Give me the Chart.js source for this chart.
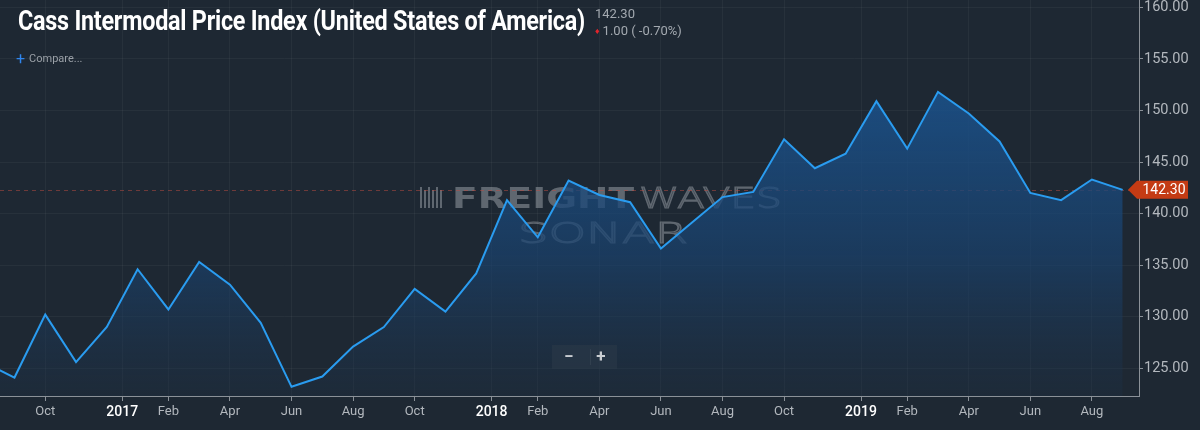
<!DOCTYPE html>
<html>
<head>
<meta charset="utf-8">
<script src="https://cdn.jsdelivr.net/npm/chart.js@4.4.0/dist/chart.umd.min.js"></script>
<style>
    body { margin: 0; background: #1e2833; font-family: Roboto, sans-serif; }
    #wrap { position: relative; width: 1200px; height: 430px; overflow: hidden; }
    #c { position: absolute; left: 0; top: 0; }
    #title { position: absolute; left: 18px; top: 4px; color: #fff; font: 700 28px Roboto, sans-serif; white-space: nowrap; transform-origin: left top; letter-spacing: -0.3px; }
    #last { position: absolute; left: 595px; top: 6px; color: #a3a9b0; font: 13px Roboto, sans-serif; }
    #chg { position: absolute; left: 595px; top: 23px; color: #a3a9b0; font: 13px Roboto, sans-serif; }
    #chg b { color: #e3242b; font-size: 9px; margin-right: 3px; vertical-align: 1px; }
    #compare { position: absolute; left: 16px; top: 49px; color: #9aa0a7; font: 11px Roboto, sans-serif; }
    #compare span { color: #2f86ee; font-size: 16px; vertical-align: -2px; margin-right: 4px; }
    #zoombox { position: absolute; left: 552px; top: 345px; width: 65px; height: 24px; background: rgba(44,58,72,0.55); color: #c9cdd2; font: 700 17px Roboto, sans-serif; }
    #zoombox div { position: absolute; top: 1px; width: 32px; text-align: center; }
    #zoombox i { position: absolute; left: 38px; top: 4px; width: 1px; height: 16px; background: rgba(255,255,255,0.06); }
</style>
</head>
<body>
<div id="wrap">
    <canvas id="c" width="1200" height="430"></canvas>
    <div id="title">Cass Intermodal Price Index (United States of America)</div>
    <div id="last">142.30</div>
    <div id="chg"><b>&#9830;</b>1.00 ( -0.70%)</div>
    <div id="compare"><span>+</span>Compare...</div>
    <div id="zoombox"><div style="left:1px">&minus;</div><i></i><div style="left:33px">+</div></div>
</div>
<script>
// Monthly readings, Aug 2016 .. Sep 2019
const months = [
    '2016-08', '2016-09', '2016-10', '2016-11', '2016-12',
    '2017-01', '2017-02', '2017-03', '2017-04', '2017-05', '2017-06',
    '2017-07', '2017-08', '2017-09', '2017-10', '2017-11', '2017-12',
    '2018-01', '2018-02', '2018-03', '2018-04', '2018-05', '2018-06',
    '2018-07', '2018-08', '2018-09', '2018-10', '2018-11', '2018-12',
    '2019-01', '2019-02', '2019-03', '2019-04', '2019-05', '2019-06',
    '2019-07', '2019-08', '2019-09'
];
const priceIndex = [
    125.6, 124.1, 130.2, 125.6, 129.0,
    134.6, 130.7, 135.3, 133.1, 129.4, 123.2,
    124.2, 127.1, 129.0, 132.7, 130.5, 134.2,
    141.3, 137.7, 143.2, 141.8, 141.1, 136.6,
    139.1, 141.6, 142.1, 147.2, 144.4, 145.8,
    150.9, 146.3, 151.8, 149.7, 147.0, 142.0,
    141.3, 143.3, 142.3
];
const xTickMonths = [
    '2016-10', '2017-01', '2017-02', '2017-04', '2017-06', '2017-08', '2017-10',
    '2018-01', '2018-02', '2018-04', '2018-06', '2018-08', '2018-10',
    '2019-01', '2019-02', '2019-04', '2019-06', '2019-08'
];
const yTicks = [125, 130, 135, 140, 145, 150, 155, 160];
const monthNames = ['Jan', 'Feb', 'Mar', 'Apr', 'May', 'Jun', 'Jul', 'Aug', 'Sep', 'Oct', 'Nov', 'Dec'];

const lastValue = priceIndex[priceIndex.length - 1];

function isYearTick(i) {
    return xTickMonths[i] && xTickMonths[i].endsWith('-01');
}

function tickLabel(i) {
    const [y, m] = xTickMonths[i].split('-');
    return m === '01' ? y : monthNames[parseInt(m, 10) - 1];
}

// draw text squeezed/stretched to a given width
function fitText(ctx, text, x, y, width, stroke) {
    const w = ctx.measureText(text).width;
    ctx.save();
    ctx.translate(x, y);
    ctx.scale(width / w, 1);
    if (stroke) ctx.strokeText(text, 0, 0);
    else ctx.fillText(text, 0, 0);
    ctx.restore();
}

const watermark = {
    id: 'watermark',
    beforeDatasetsDraw(chart) {
        const ctx = chart.ctx;
        ctx.save();
        ctx.fillStyle = 'rgba(175,180,186,0.45)';
        ctx.strokeStyle = 'rgba(175,180,186,0.45)';
        ctx.textBaseline = 'alphabetic';
        // bar icon
        for (let k = 0; k < 6; k++) {
            const bx = 420 + k * 4;
            ctx.fillRect(bx, 187 + (k % 2) * 3, 2, 21 - (k % 2) * 3);
        }
        ctx.font = '900 28px "DejaVu Sans"';
        fitText(ctx, 'FREIGHT', 452, 208, 182, false);
        ctx.font = '300 28px "DejaVu Sans"';
        ctx.lineWidth = 1.1;
        fitText(ctx, 'WAVES', 639, 208, 143, true);
        fitText(ctx, 'SONAR', 518, 243, 170, true);
        ctx.restore();
    }
};

const priceLine = {
    id: 'priceLine',
    beforeDatasetsDraw(chart) {
        const ctx = chart.ctx;
        const area = chart.chartArea;
        const y = chart.scales.y.getPixelForValue(lastValue);
        ctx.save();
        ctx.strokeStyle = 'rgba(190,75,65,0.5)';
        ctx.lineWidth = 1;
        ctx.setLineDash([4, 4]);
        ctx.beginPath();
        ctx.moveTo(area.left, Math.round(y) + 0.5);
        ctx.lineTo(area.right, Math.round(y) + 0.5);
        ctx.stroke();
        ctx.restore();
    },
    afterDraw(chart) {
        const ctx = chart.ctx;
        const area = chart.chartArea;
        const y = chart.scales.y.getPixelForValue(lastValue);
        const x0 = area.right - 11;
        ctx.save();
        ctx.fillStyle = '#c43b14';
        ctx.beginPath();
        ctx.moveTo(x0, y);
        ctx.lineTo(x0 + 9, y - 9);
        ctx.lineTo(area.right + 49, y - 9);
        ctx.lineTo(area.right + 49, y + 9);
        ctx.lineTo(x0 + 9, y + 9);
        ctx.closePath();
        ctx.fill();
        ctx.fillStyle = '#ffffff';
        ctx.font = '14px Roboto';
        ctx.textAlign = 'center';
        ctx.textBaseline = 'middle';
        ctx.fillText(lastValue.toFixed(2), area.right + 25, y + 1);
        ctx.restore();
    }
};

function areaFill(context) {
    const chart = context.chart;
    const area = chart.chartArea;
    if (!area) return 'rgba(26,75,125,0.6)';
    const g = chart.ctx.createLinearGradient(0, area.top, 0, area.bottom);
    g.addColorStop(0, 'rgba(27,90,155,0.95)');
    g.addColorStop(0.25, 'rgba(27,82,140,0.85)');
    g.addColorStop(0.65, 'rgba(26,66,110,0.7)');
    g.addColorStop(1, 'rgba(30,48,68,0.35)');
    return g;
}

const axisColor = '#8b9198';

new Chart(document.getElementById('c').getContext('2d'), {
    type: 'line',
    data: {
        datasets: [{
            data: priceIndex.map((v, i) => ({ x: i, y: v })),
            borderColor: '#2a9cf0',
            borderWidth: 2,
            backgroundColor: areaFill,
            fill: 'start',
            pointRadius: 0,
            tension: 0
        }]
    },
    options: {
        responsive: false,
        animation: false,
        devicePixelRatio: 1,
        layout: { padding: 0 },
        plugins: {
            legend: { display: false },
            tooltip: { enabled: false }
        },
        scales: {
            x: {
                type: 'linear',
                min: 0.53,
                max: 37.53,
                afterBuildTicks: scale => {
                    scale.ticks = xTickMonths.map(m => {
                        const i = months.indexOf(m);
                        return { value: m.endsWith('-01') ? i - 0.5 : i };
                    });
                },
                afterFit: scale => {
                    scale.height = 34;
                    scale.paddingLeft = 0;
                    scale.paddingRight = 0;
                },
                grid: {
                    color: 'rgba(255,255,255,0.045)',
                    tickColor: axisColor,
                    tickLength: 5
                },
                border: { color: axisColor },
                ticks: {
                    autoSkip: false,
                    maxRotation: 0,
                    padding: 3,
                    callback: (v, i) => tickLabel(i),
                    color: ctx => isYearTick(ctx.index) ? '#ffffff' : '#b3b8be',
                    font: ctx => isYearTick(ctx.index)
                        ? { family: 'Roboto', size: 14, weight: '500' }
                        : { family: 'Roboto', size: 13 }
                }
            },
            y: {
                position: 'right',
                min: 122.31,
                max: 160.71,
                afterBuildTicks: scale => {
                    scale.ticks = yTicks.map(v => ({ value: v }));
                },
                afterFit: scale => {
                    scale.width = 61;
                    scale.paddingTop = 0;
                    scale.paddingBottom = 0;
                },
                grid: {
                    color: 'rgba(255,255,255,0.045)',
                    tickColor: axisColor,
                    tickLength: 4
                },
                border: { color: axisColor },
                ticks: {
                    padding: 1,
                    color: '#b3b8be',
                    font: { family: 'Roboto', size: 14.5 },
                    callback: v => v.toFixed(2)
                }
            }
        }
    },
    plugins: [watermark, priceLine]
});

// title is drawn in a condensed look: squeeze it to the reference width
const title = document.getElementById('title');
const tw = title.getBoundingClientRect().width;
title.style.transform = 'scaleX(' + (567 / tw) + ')';
</script>
</body>
</html>
